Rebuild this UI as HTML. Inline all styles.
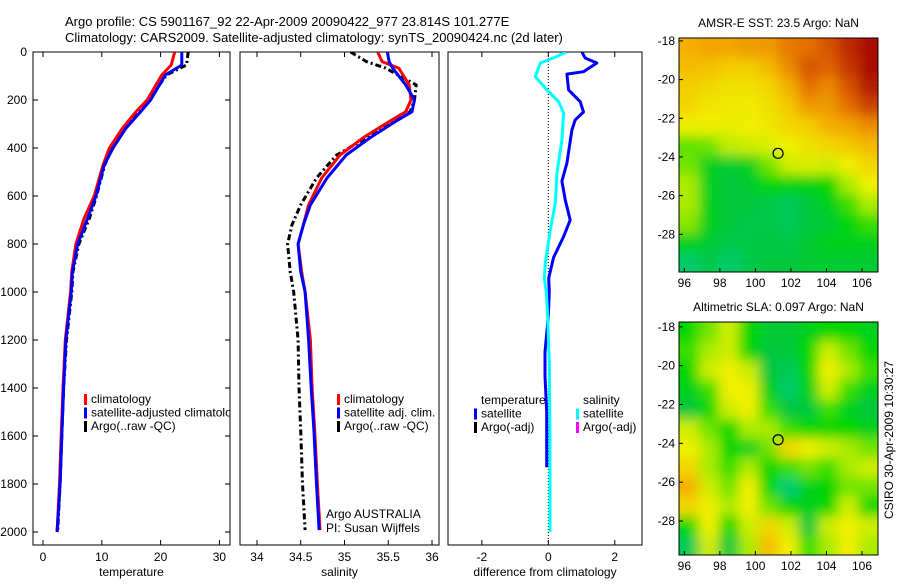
<!DOCTYPE html>
<html><head><meta charset="utf-8"><style>
body{margin:0;background:#fff;}
svg text{font-family:"Liberation Sans",sans-serif;font-size:12px;fill:#000;}
</style></head><body>
<svg id="chart" width="900" height="580" viewBox="0 0 900 580" xmlns="http://www.w3.org/2000/svg">
<defs>
<filter id="blur" x="-5%" y="-5%" width="110%" height="110%"><feGaussianBlur stdDeviation="6"/></filter>
<clipPath id="c1"><rect x="33" y="52" width="197" height="493"/></clipPath>
<clipPath id="c2"><rect x="240" y="52" width="199" height="493"/></clipPath>
<clipPath id="c3"><rect x="448" y="52" width="194" height="493"/></clipPath>
<clipPath id="m1"><rect x="679" y="38" width="199" height="234"/></clipPath>
<clipPath id="m2"><rect x="679" y="322" width="199" height="233"/></clipPath>
<clipPath id="leg1"><rect x="33" y="380" width="197" height="60"/></clipPath>
</defs>
<text x="65" y="26" style="font-size:13px">Argo profile: CS 5901167_92 22-Apr-2009 20090422_977 23.814S 101.277E</text>
<text x="65" y="42" style="font-size:13px">Climatology: CARS2009. Satellite-adjusted climatology: synTS_20090424.nc (2d later)</text>
<g id="g1"></g><g id="g2"></g><g id="g3"></g><g id="gm"></g>
<text transform="translate(893,440) rotate(-90)" text-anchor="middle">CSIRO 30-Apr-2009 10:30:27</text>
</svg>
<script>
// depth axis data
const depthTicks=[0,200,400,600,800,1000,1200,1400,1600,1800,2000];
// temperature profiles
const tDepth=[0,54,96,200,249,318,400,471,600,692,800,915,1000,1200,1400,1600,1800,2000];
const tClim=[22.4,21.8,20.2,17.7,15.8,13.5,11.3,10.2,8.7,7.0,5.6,4.9,4.7,3.8,3.4,3.1,2.8,2.4];
const tSat=[23.6,23.6,20.8,18.3,16.6,14.1,11.9,10.4,9.0,7.6,5.9,5.0,4.8,3.9,3.5,3.2,2.9,2.4];
const tArgo=[24.7,24.4,21.0,18.0,16.4,14.0,11.8,10.5,9.1,7.9,6.1,5.1,4.9,4.0,3.5,3.2,2.9,2.5];
const tTicks=[0,10,20,30];
// salinity profiles
const sDepth=[0,40,67,137,200,249,290,358,429,525,637,720,800,915,1000,1200,1400,1575,1800,1992];
const sClim=[35.38,35.43,35.62,35.74,35.76,35.70,35.51,35.21,34.95,34.74,34.59,34.53,34.47,34.51,34.55,34.61,34.63,34.66,34.69,34.72];
const sSat=[35.49,35.51,35.55,35.70,35.80,35.77,35.58,35.29,35.02,34.80,34.61,34.53,34.47,34.50,34.55,34.59,34.62,34.65,34.68,34.71];
const sArgo=[35.07,35.25,35.47,35.82,35.80,35.75,35.55,35.25,34.91,34.68,34.50,34.40,34.35,34.38,34.42,34.47,34.48,34.50,34.52,34.55];
const sTicks=[34,34.5,35,35.5,36];
// differences
const dTDepth=[0,25,46,82,92,158,207,250,283,325,463,538,617,700,769,856,942,1000,1100,1250,1350,1500,1730];
const dTemp=[1.01,1.11,1.46,1.06,0.56,0.61,0.96,1.06,0.81,0.71,0.56,0.41,0.51,0.66,0.46,0.16,0.01,0.03,0.0,-0.1,-0.1,-0.05,-0.05];
const dSDepth=[0,25,46,103,158,207,254,367,504,629,742,879,942,1000,1100,1300,1600,2000];
const dSal=[0.54,0.15,-0.24,-0.39,-0.04,0.31,0.46,0.41,0.26,0.21,0.06,-0.09,-0.12,-0.06,-0.02,0.03,0.05,0.05];
const dTicks=[-2,0,2];
// maps
const sstGrid=[
[0.68,0.7,0.7,0.72,0.72,0.78,0.8,0.85,0.92,0.97],
[0.65,0.65,0.62,0.62,0.66,0.75,0.85,0.82,0.9,0.97],
[0.62,0.6,0.58,0.58,0.6,0.68,0.8,0.75,0.85,0.95],
[0.6,0.57,0.57,0.56,0.58,0.63,0.72,0.72,0.8,0.88],
[0.55,0.55,0.54,0.55,0.57,0.6,0.62,0.68,0.7,0.75],
[0.38,0.4,0.48,0.5,0.52,0.55,0.58,0.6,0.63,0.66],
[0.4,0.25,0.22,0.25,0.4,0.5,0.52,0.5,0.55,0.6],
[0.45,0.25,0.2,0.22,0.3,0.28,0.28,0.3,0.45,0.55],
[0.45,0.25,0.2,0.2,0.18,0.15,0.2,0.25,0.35,0.45],
[0.42,0.25,0.2,0.18,0.18,0.15,0.2,0.22,0.28,0.35],
[0.25,0.22,0.18,0.18,0.2,0.18,0.22,0.25,0.25,0.25],
[0.12,0.18,0.12,0.18,0.2,0.2,0.22,0.22,0.22,0.22]];
const slaGrid=[
[0.3,0.4,0.5,0.3,0.22,0.22,0.25,0.3,0.3,0.25],
[0.35,0.45,0.5,0.3,0.2,0.2,0.3,0.5,0.4,0.3],
[0.3,0.5,0.55,0.5,0.2,0.15,0.3,0.55,0.45,0.35],
[0.25,0.35,0.55,0.55,0.25,0.12,0.25,0.5,0.35,0.25],
[0.2,0.3,0.5,0.55,0.35,0.2,0.2,0.35,0.25,0.2],
[0.5,0.4,0.3,0.45,0.45,0.35,0.3,0.3,0.3,0.25],
[0.55,0.45,0.3,0.25,0.4,0.6,0.55,0.5,0.45,0.4],
[0.6,0.45,0.35,0.45,0.3,0.35,0.4,0.35,0.45,0.5],
[0.68,0.5,0.4,0.55,0.3,0.1,0.25,0.3,0.4,0.4],
[0.6,0.55,0.45,0.55,0.4,0.3,0.25,0.3,0.5,0.3],
[0.3,0.55,0.3,0.5,0.6,0.5,0.2,0.5,0.55,0.5],
[0.15,0.5,0.2,0.45,0.65,0.55,0.35,0.45,0.55,0.45]];
const lonTicks=[96,98,100,102,104,106];
const latTicks=[-18,-20,-22,-24,-26,-28];
const argoLon=101.277, argoLat=-23.814;

const NS='http://www.w3.org/2000/svg';
function mk(parent,tag,attrs,txt){const e=document.createElementNS(NS,tag);for(const k in attrs)e.setAttribute(k,attrs[k]);if(txt!==undefined)e.textContent=txt;parent.appendChild(e);return e;}
const Y=d=>52+d*0.24;
function panel(g,x0,x1,xmin,xmax,ticks,label,name,yTicks){
  const X=v=>x0+(v-xmin)/(xmax-xmin)*(x1-x0);
  const r=mk(g,'rect',{x:x0,y:52,width:x1-x0,height:493,fill:'none',stroke:'#000','stroke-width':1});
  
  
  ticks.forEach(t=>{
    mk(g,'line',{x1:X(t),x2:X(t),y1:545,y2:540,stroke:'#000'});
    mk(g,'line',{x1:X(t),x2:X(t),y1:52,y2:57,stroke:'#000'});
    const tx=mk(g,'text',{x:X(t),y:561,'text-anchor':'middle'},String(t));
    
    
  });
  const xl=mk(g,'text',{x:(x0+x1)/2,y:576,'text-anchor':'middle'},label);
  
  
  if(yTicks){depthTicks.forEach(d=>{
    mk(g,'line',{x1:x0,x2:x0+5,y1:Y(d),y2:Y(d),stroke:'#000'});
    mk(g,'line',{x1:x1,x2:x1-5,y1:Y(d),y2:Y(d),stroke:'#000'});
    const t=mk(g,'text',{x:27,y:Y(d)+4,'text-anchor':'end'},String(d));
    
    
  });}
  return X;
}
function line(g,X,vals,depths,color,dash,name,clip){
  const pts=vals.map((v,i)=>X(v).toFixed(1)+','+Y(depths[i]).toFixed(1)).join(' ');
  const p=mk(g,'polyline',{points:pts,fill:'none',stroke:color,'stroke-width':3,'stroke-linejoin':'round','clip-path':'url(#'+clip+')'});
  if(dash)p.setAttribute('stroke-dasharray',dash);
  
  
}
function legend(g,x,y,items,clip){
  const lg=mk(g,'g',clip?{'clip-path':'url(#'+clip+')'}:{});
  
  
  items.forEach((it,i)=>{
    if(it[0])mk(lg,'rect',{x:x,y:y+i*13.5-9,width:3,height:11,fill:it[0]});
    const t=mk(lg,'text',{x:x+7,y:y+i*13.5},it[1]);
    
    
  });
}
// panel 1
const g1=document.getElementById('g1');
const X1=panel(g1,33,230,-1.7,31.8,tTicks,'temperature','temperature-panel',true);
line(g1,X1,tArgo,tDepth,'#000','6,3,2,3','argo-temperature-line','c1');
line(g1,X1,tClim,tDepth,'#f00',null,'climatology-temperature-line','c1');
line(g1,X1,tSat,tDepth,'#00f',null,'satellite-temperature-line','c1');
legend(g1,84,403,[['#f00','climatology'],['#00f','satellite-adjusted climatology'],['#000','Argo(..raw -QC)']],'leg1');
// panel 2
const g2=document.getElementById('g2');
const X2=panel(g2,240,439,33.806,36.08,sTicks,'salinity','salinity-panel',false);
line(g2,X2,sArgo,sDepth,'#000','6,3,2,3','argo-salinity-line','c2');
line(g2,X2,sClim,sDepth,'#f00',null,'climatology-salinity-line','c2');
line(g2,X2,sSat,sDepth,'#00f',null,'satellite-salinity-line','c2');
legend(g2,337,403,[['#f00','climatology'],['#00f','satellite adj. clim.'],['#000','Argo(..raw -QC)']]);
const a1=mk(g2,'text',{x:326,y:518},'Argo AUSTRALIA');
const a2=mk(g2,'text',{x:326,y:532},'PI: Susan Wijffels');
// panel 3
const g3=document.getElementById('g3');
const X3=panel(g3,448,642,-3.02,2.82,dTicks,'difference from climatology','difference-panel',false);
const z=mk(g3,'line',{x1:X3(0),x2:X3(0),y1:52,y2:545,stroke:'#000','stroke-dasharray':'1,2'});

line(g3,X3,dTemp,dTDepth,'#00f',null,'temperature-difference-line','c3');
line(g3,X3,dSal,dSDepth,'#0ff',null,'salinity-difference-line','c3');
legend(g3,474,404,[[null,'temperature'],['#00f','satellite'],['#000','Argo(-adj)']]);
legend(g3,576,404,[[null,'salinity'],['#0ff','satellite'],['#f0f','Argo(-adj)']]);
// maps
function cmap(v){
  const stops=[[0,[0,205,175]],[0.2,[0,200,60]],[0.3,[0,215,0]],[0.45,[170,235,0]],[0.55,[240,240,0]],[0.68,[245,175,0]],[0.82,[225,100,0]],[1,[160,0,0]]];
  for(let i=1;i<stops.length;i++){if(v<=stops[i][0]){const a=stops[i-1],b=stops[i];const f=(v-a[0])/(b[0]-a[0]);return 'rgb('+a[1].map((c,k)=>Math.round(c+(b[1][k]-c)*f)).join(',')+')';}}
  return 'rgb(160,0,0)';
}
const gm=document.getElementById('gm');
function map(grid,x0,y0,w,h,clip,title,name,latTop,latBot){
  const LX=lon=>x0+(lon-95.7)/(106.9-95.7)*w;
  const LY=lat=>y0+(latTop-lat)/(latTop-latBot)*h;
  const t=mk(gm,'text',{x:x0+w/2,y:y0-11,'text-anchor':'middle'},title);
  
  const cg=mk(gm,'g',{'clip-path':'url(#'+clip+')'});
  mk(cg,'rect',{x:x0,y:y0,width:w,height:h,fill:cmap(0.4)});
  const bg=mk(cg,'g',{filter:'url(#blur)'});
  
  const rows=grid.length,cols=grid[0].length,cw=w/cols,ch=h/rows;
  grid.forEach((row,r)=>row.forEach((v,c)=>{
    const cell=mk(bg,'rect',{x:x0+c*cw-(c==0?14:0),y:y0+r*ch-(r==0?14:0),width:cw+(c==0||c==cols-1?14.5:0.5),height:ch+(r==0||r==rows-1?14.5:0.5),fill:cmap(v)});
    
    
  }));
  const fr=mk(gm,'rect',{x:x0,y:y0,width:w,height:h,fill:'none',stroke:'#000'});
  
  lonTicks.forEach(l=>{mk(gm,'line',{x1:LX(l),x2:LX(l),y1:y0+h,y2:y0+h-4,stroke:'#000'});
    const tt=mk(gm,'text',{x:LX(l),y:y0+h+15,'text-anchor':'middle'},String(l));});
  latTicks.forEach(l=>{mk(gm,'line',{x1:x0,x2:x0+4,y1:LY(l),y2:LY(l),stroke:'#000'});
    const tt=mk(gm,'text',{x:x0-4,y:LY(l)+4,'text-anchor':'end'},String(l));});
  const c=mk(gm,'ellipse',{cx:LX(argoLon),cy:LY(argoLat),rx:5,ry:5,fill:'none',stroke:'#000','stroke-width':1.2});
  
}
map(sstGrid,679,38,199,234,'m1','AMSR-E SST: 23.5 Argo: NaN','sst-map',-17.85,-29.95);
map(slaGrid,679,322,199,233,'m2','Altimetric SLA: 0.097 Argo: NaN','sla-map',-17.75,-29.75);
</script>
</body></html>
